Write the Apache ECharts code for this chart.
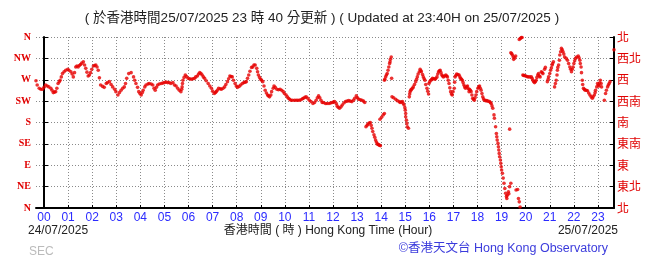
<!DOCTYPE html>
<html><head><meta charset="utf-8">
<script src="https://cdn.jsdelivr.net/npm/echarts@6/dist/echarts.min.js"></script>
<style>html,body{margin:0;padding:0;background:#fff}#c{width:655px;height:259px}</style>
</head><body><div id="c"></div>
<script>
const hourLabels = ['00','01','02','03','04','05','06','07','08','09','10','11','12','13','14','15','16','17','18','19','20','21','22','23'];
const dirLabelsEn = ['N','NE','E','SE','S','SW','W','NW','N'];
const dirLabelsZh = ['北','東北','東','東南','南','西南','西','西北','北'];
// [minutes after 00:00 on 25/07/2025, wind direction in degrees]
const windSamples = [
[-20,268],[-17,259],[-12,252],[-8,250],[-4,250],[0,254],[4,259],[8,257],[12,255],[17,252],[20,248],[23,243],[26,244],[29,245],[32,252],[35,262],[38,266],[40,269],[43,276],[46,283],[50,287],[54,290],[59,292],[62,290],[67,287],[70,282],[73,276],[76,285],[79,297],[82,299],[85,297],[88,300],[91,302],[94,305],[98,308],[101,301],[104,294],[107,286],[110,278],[113,280],[116,285],[119,292],[123,299],[126,300],[129,301],[132,297],[135,290],[138,274],[141,259],[146,256],[150,254],[155,262],[158,264],[163,266],[167,260],[171,255],[176,250],[179,245],[184,238],[188,243],[192,248],[196,252],[200,255],[203,262],[206,273],[211,283],[217,285],[223,276],[226,269],[229,262],[233,254],[236,245],[239,241],[242,238],[245,243],[247,248],[251,255],[254,259],[259,261],[262,262],[267,261],[271,259],[274,252],[277,248],[280,254],[283,259],[287,261],[292,262],[296,263],[300,264],[304,265],[308,264],[312,264],[316,262],[321,264],[325,259],[329,257],[333,252],[337,248],[341,245],[343,250],[344,255],[345,262],[346,269],[349,275],[352,280],[355,277],[359,273],[363,272],[367,271],[371,272],[375,273],[378,276],[382,278],[385,282],[388,285],[391,283],[394,280],[397,276],[400,273],[404,268],[409,262],[413,257],[417,252],[420,246],[424,241],[427,243],[429,245],[432,248],[435,252],[439,251],[442,250],[446,252],[450,255],[453,260],[457,266],[460,272],[463,278],[466,277],[469,276],[472,269],[476,262],[479,257],[482,254],[486,256],[490,259],[494,262],[498,264],[501,265],[504,266],[507,273],[510,280],[513,288],[517,296],[520,297],[523,301],[526,301],[530,294],[532,287],[534,280],[537,275],[540,271],[542,269],[545,266],[548,257],[551,248],[554,242],[557,238],[559,236],[562,234],[565,238],[567,245],[571,252],[573,257],[576,254],[580,250],[584,249],[588,250],[592,248],[596,245],[599,241],[603,238],[606,234],[609,231],[612,229],[615,227],[619,227],[624,227],[628,227],[632,227],[636,227],[640,228],[644,230],[646,231],[650,233],[653,234],[657,231],[661,227],[665,224],[670,220],[674,222],[678,227],[681,232],[684,236],[687,232],[690,227],[693,222],[696,222],[701,220],[705,220],[710,220],[714,221],[718,222],[721,223],[724,224],[728,220],[730,215],[733,212],[736,210],[740,213],[743,217],[747,221],[751,224],[755,225],[759,226],[763,225],[767,224],[771,227],[774,231],[778,236],[781,232],[784,229],[788,228],[792,227],[796,225],[799,222],
[802,171],[805,174],[807,177],[810,179],[813,180],[815,174],[817,168],[819,161],[822,154],[824,149],[826,143],[828,139],[830,135],[832,134],[834,133],[836,132],[838,131],
[837,187],[841,191],[845,196],[848,199],
[848,269],[849,271],[851,276],[853,280],[855,283],[857,290],[859,297],[861,304],[862,308],[863,313],[865,318],
[866,273],
[867,234],[871,232],[876,229],[880,226],[885,224],[887,222],[890,223],[893,224],[895,220],[897,217],[899,211],[900,206],[901,199],[901,192],[903,185],[904,178],[905,171],[908,168],
[910,234],[911,240],[912,245],[914,248],[915,250],[918,252],[920,255],[923,260],[926,266],[928,271],[930,276],[932,282],[935,287],[937,292],[939,289],[940,287],[943,281],[945,276],[947,272],[949,269],[951,260],[954,252],[956,246],[958,240],[959,262],[961,266],[964,269],[966,271],[968,273],[971,272],[974,271],[976,273],[979,276],[981,282],[983,287],[985,289],[987,290],[989,285],[991,280],[993,278],[995,276],[998,278],[1001,280],[1003,278],[1005,276],[1007,269],[1009,262],[1011,253],[1013,245],[1015,240],[1017,238],[1019,245],[1022,252],[1023,265],[1024,276],[1026,279],[1028,282],[1031,281],[1034,280],[1036,276],[1038,273],[1040,271],[1042,269],[1044,264],[1046,259],[1048,255],[1050,252],[1053,255],[1055,257],[1057,251],[1059,245],[1060,250],[1062,248],[1064,245],[1066,238],[1068,231],[1070,229],[1072,227],[1074,232],[1076,238],[1078,245],[1081,252],[1083,255],[1085,257],[1087,252],[1089,248],[1091,241],[1093,234],[1095,230],[1097,227],[1100,226],[1103,226],[1106,225],[1110,224],[1112,222],[1114,220],[1116,215],[1118,210],[1121,196],[1122,189],[1125,171],[1127,157],[1128,150],[1129,143],[1131,136],[1132,129],[1133,122],[1134,115],[1135,108],[1137,101],[1138,94],[1139,87],[1140,80],[1142,73],[1144,63],[1146,52],[1148,41],[1150,31],[1152,24],[1153,20],[1154,27],[1157,34],[1158,30],[1160,45],[1163,52],
[1160,166],[1176,38],[1180,39],[1182,20],[1184,13],[1186,2],[1163,327],[1165,325],[1167,322],[1169,318],[1170,313],[1173,316],[1175,320],[1184,355],[1187,357],[1189,359],[1191,359],
[1193,280],[1195,279],[1197,279],[1200,278],[1203,277],[1206,276],[1210,276],[1214,276],[1216,273],[1218,269],[1220,266],[1222,264],[1224,266],[1226,269],[1228,275],[1230,280],[1232,283],[1234,278],[1236,276],[1239,287],[1241,285],[1243,283],[1247,292],[1249,296],[1254,266],[1256,271],[1257,276],[1260,283],[1262,290],[1264,295],[1266,301],[1267,304],[1269,308],[1272,255],[1274,262],[1276,269],[1278,280],[1279,290],[1280,296],[1282,301],[1284,311],[1285,322],[1287,329],[1289,336],[1291,333],[1293,329],[1295,324],[1297,318],[1301,315],[1304,311],[1307,304],[1310,297],[1312,292],[1314,287],[1316,292],[1318,297],[1320,304],[1322,310],[1324,315],[1327,318],[1331,320],[1333,316],[1335,311],[1336,304],[1338,297],[1339,285],[1341,269],[1342,260],[1344,252],[1346,250],[1348,248],[1351,248],[1354,247],[1357,242],[1360,238],[1363,234],[1366,231],[1368,234],[1371,238],[1373,243],[1374,248],[1377,255],[1379,262],[1381,259],[1383,257],[1384,263],[1386,269],[1388,262],[1389,255],[1396,227],[1399,241],[1401,248],[1404,255],[1406,259],[1408,262],[1410,266],[1420,333]
];

const hourTicks = hourLabels.map((_, i) => i * 60);
const latin = "'Liberation Sans','Noto Sans CJK TC',sans-serif";
const gridLine = { show: true, lineStyle: { color: '#8a8a8a', type: [1, 2], width: 1 } };

const chart = echarts.init(document.getElementById('c'), null, { renderer: 'canvas' });
chart.setOption({
  animation: false,
  backgroundColor: '#fff',
  grid: { left: 36, right: 41, top: 37, bottom: 51 },
  xAxis: {
    type: 'value', min: -20, max: 1420,
    axisLine: { show: true, lineStyle: { color: '#000', width: 2 } },
    axisTick: { show: true, inside: true, length: 3, customValues: hourTicks, lineStyle: { color: '#000' } },
    axisLabel: { customValues: hourTicks, formatter: v => hourLabels[Math.round(v / 60)], color: '#2b2bff', fontSize: 12, fontFamily: latin, margin: 4 },
    splitLine: gridLine
  },
  yAxis: [{
    type: 'value', min: 0, max: 360, interval: 45, position: 'left',
    axisLine: { show: true, lineStyle: { color: '#000', width: 2 } },
    axisTick: { show: true, inside: true, length: 4, lineStyle: { color: '#000' } },
    axisLabel: { formatter: v => dirLabelsEn[Math.round(v / 45)], color: '#e00000', fontSize: 10, fontWeight: 'bold', fontFamily: "'Liberation Serif','DejaVu Serif',serif", margin: 5 },
    splitLine: gridLine
  }, {
    type: 'value', min: 0, max: 360, interval: 45, position: 'right',
    axisLine: { show: true, lineStyle: { color: '#000', width: 2 } },
    axisTick: { show: true, inside: true, length: 4, lineStyle: { color: '#000' } },
    axisLabel: { formatter: v => dirLabelsZh[Math.round(v / 45)], color: '#e00000', fontSize: 12, fontFamily: "'Noto Sans CJK TC',sans-serif", margin: 3 },
    splitLine: { show: false }
  }],
  series: [{
    type: 'scatter',
    data: windSamples,
    symbol: 'circle',
    symbolSize: 3.6,
    itemStyle: { color: '#e60000' },
    silent: true
  }],
  graphic: [
    { type: 'text', x: 322, y: 18, style: { text: '( 於香港時間25/07/2025 23 時 40 分更新 ) ( Updated at 23:40H on 25/07/2025 )', fontSize: 13.5, fontFamily: latin, fill: '#222', align: 'center', verticalAlign: 'middle' } },
    { type: 'text', x: 28, y: 231, style: { text: '24/07/2025', fontSize: 12, fontFamily: latin, fill: '#222', align: 'left', verticalAlign: 'middle' } },
    { type: 'text', x: 328, y: 231, style: { text: '香港時間 ( 時 ) Hong Kong Time (Hour)', fontSize: 12, fontFamily: latin, fill: '#222', align: 'center', verticalAlign: 'middle' } },
    { type: 'text', x: 618, y: 231, style: { text: '25/07/2025', fontSize: 12, fontFamily: latin, fill: '#222', align: 'right', verticalAlign: 'middle' } },
    { type: 'text', x: 29, y: 252, style: { text: 'SEC', fontSize: 12, fontFamily: latin, fill: '#bbb', align: 'left', verticalAlign: 'middle' } },
    { type: 'text', x: 608, y: 249, style: { text: '©香港天文台 Hong Kong Observatory', fontSize: 12.5, fontFamily: latin, fill: '#3b3bdc', align: 'right', verticalAlign: 'middle' } }
  ]
});
</script>
</body></html>
